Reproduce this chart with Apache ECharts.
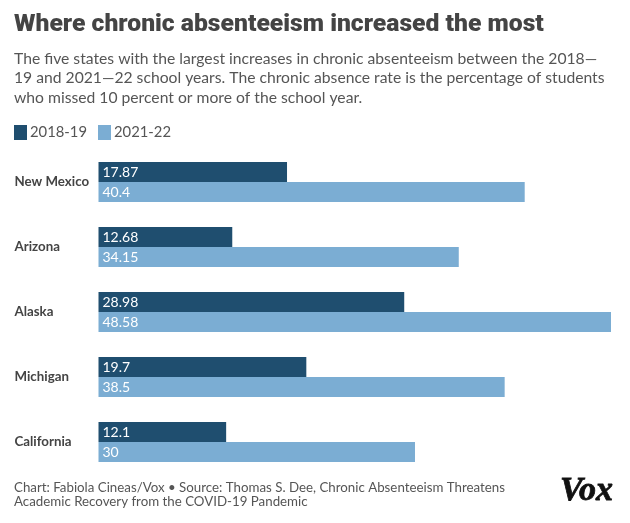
<!DOCTYPE html>
<html>
<head>
<meta charset="utf-8">
<style>
  html, body { margin: 0; padding: 0; background: #fff; }
  #chart { width: 630px; height: 523px; }
</style>
<script src="https://cdn.jsdelivr.net/npm/echarts@6/dist/echarts.min.js"></script>
</head>
<body>
<div id="chart"></div>
<script>
var states = ['New Mexico', 'Arizona', 'Alaska', 'Michigan', 'California'];
var rate2018 = [17.87, 12.68, 28.98, 19.7, 12.1];
var rate2021 = [40.4, 34.15, 48.58, 38.5, 30];
var seriesNames = ['2018-19', '2021-22'];

var titleText = 'Where chronic absenteeism increased the most';
var subtitleText = 'The five states with the largest increases in chronic absenteeism between the 2018\u2014\n19 and 2021\u201422 school years. The chronic absence rate is the percentage of students\nwho missed 10 percent or more of the school year.';
var footerText = 'Chart: Fabiola Cineas/Vox \u2022 Source: Thomas S. Dee, Chronic Absenteeism Threatens\nAcademic Recovery from the COVID-19 Pandemic';

var font = 'Lato';
var chart = echarts.init(document.getElementById('chart'), null, { renderer: 'canvas' });

function barSeries(name, data, color) {
  return {
    name: name,
    type: 'bar',
    data: data,
    barWidth: 20,
    barGap: 0,
    itemStyle: { color: color },
    label: {
      show: true,
      position: 'insideLeft',
      distance: 4,
      color: '#fff',
      fontFamily: font,
      fontSize: 14
    },
    animation: false
  };
}

chart.setOption({
  animation: false,
  title: [
    { text: titleText, left: 14, top: 12, padding: 0,
      textStyle: { fontFamily: 'Roboto', fontWeight: 900, fontSize: 24.7, color: '#444' } },
    { text: subtitleText, left: 14, top: 49, padding: 0,
      textStyle: { fontFamily: font, fontWeight: 400, fontSize: 15.7, lineHeight: 19.5, color: '#555' } },
    { text: footerText, left: 14, top: 480, padding: 0,
      textStyle: { fontFamily: font, fontWeight: 400, fontSize: 13.3, lineHeight: 14.5, color: '#555' } },
    { text: 'Vox', left: 560, top: 474, padding: 0,
      textStyle: { fontFamily: 'Liberation Serif', fontWeight: 'bold', fontStyle: 'italic', fontSize: 34, color: '#111',
        textBorderColor: '#111', textBorderWidth: 0.8 } }
  ],
  legend: {
    left: 14,
    top: 125,
    padding: 0,
    icon: 'rect',
    itemWidth: 13,
    itemHeight: 15,
    itemGap: 11,
    data: seriesNames,
    selectedMode: false,
    textStyle: { fontFamily: font, fontSize: 14.8, color: '#555', padding: [0, 0, 0, -2] }
  },
  grid: { left: 98.5, top: 149.5, width: 512.5, height: 325 },
  xAxis: { type: 'value', min: 0, max: 48.58, show: false },
  yAxis: {
    type: 'category',
    data: states,
    inverse: true,
    axisLine: { show: false },
    axisTick: { show: false },
    axisLabel: {
      width: 90,
      align: 'left',
      margin: 84,
      fontFamily: font,
      fontWeight: 'bold',
      fontSize: 13.3,
      color: '#444'
    }
  },
  series: [
    barSeries(seriesNames[0], rate2018, '#1f4e6f'),
    barSeries(seriesNames[1], rate2021, '#7badd3')
  ]
});
</script>
</body>
</html>
